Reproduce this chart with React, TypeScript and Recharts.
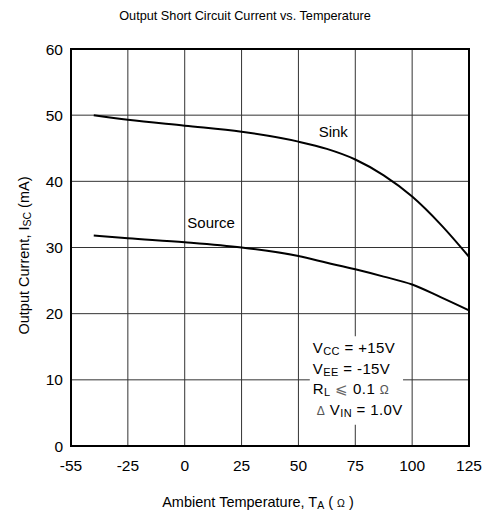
import React from 'react';
import {
  LineChart,
  Line,
  XAxis,
  YAxis,
  CartesianGrid,
  ReferenceArea,
  ReferenceDot,
} from 'recharts';

const temps = [-40, -25, 0, 25, 50, 62.5, 75, 87.5, 100, 112.5, 125];
const sinkCurrent = [50, 49.3, 48.4, 47.5, 46.0, 44.9, 43.3, 40.9, 37.7, 33.5, 28.6];
const sourceCurrent = [31.8, 31.4, 30.8, 30.0, 28.7, 27.7, 26.7, 25.6, 24.4, 22.5, 20.5];

const xTicks = [-50, -25, 0, 25, 50, 75, 100, 125];
const xTickLabels = ['-55', '-25', '0', '25', '50', '75', '100', '125'];
const yTicks = [0, 10, 20, 30, 40, 50, 60];

const data = temps.map((t, i) => ({ t, sink: sinkCurrent[i], source: sourceCurrent[i] }));

const FONT = '"Liberation Sans", Arial, Helvetica, sans-serif';

const XLabel = (props: any) => {
  const vb = props.viewBox || {};
  const cx = vb.x + vb.width / 2;
  return (
    <text x={cx - 12} y={507} textAnchor="middle" fontFamily={FONT} fontSize={14.5} fill="#000">
      <tspan>Ambient Temperature, T</tspan>
      <tspan fontSize={10.5} dy={2}>A</tspan>
      <tspan dy={-2}> ( </tspan>
      <tspan fontSize={10.5}>Ω</tspan>
      <tspan> )</tspan>
    </text>
  );
};

const YLabel = (props: any) => {
  const vb = props.viewBox || {};
  const cy = vb.y + vb.height / 2 + 8;
  const x = 29;
  return (
    <text x={x} y={cy} transform={`rotate(-90 ${x} ${cy})`} textAnchor="middle" fontFamily={FONT} fontSize={14.5} fill="#000">
      <tspan>Output Current, I</tspan>
      <tspan fontSize={10.5} dy={2}>SC</tspan>
      <tspan dy={-2}> (mA)</tspan>
    </text>
  );
};

const CondLabel = (props: any) => {
  const vb = props.viewBox || {};
  const x0 = vb.x + 3;
  const y0 = vb.y;
  const ls = 0.4;
  return (
    <g fontFamily={FONT} fill="#000">
      <text x={x0} y={y0 + 17} fontSize={15} letterSpacing={ls}>
        <tspan>V</tspan>
        <tspan fontSize={11} dy={2}>CC</tspan>
        <tspan dy={-2}> = +15V</tspan>
      </text>
      <text x={x0} y={y0 + 38} fontSize={15} letterSpacing={ls}>
        <tspan>V</tspan>
        <tspan fontSize={11} dy={2}>EE</tspan>
        <tspan dy={-2}> = -15V</tspan>
      </text>
      <text x={x0} y={y0 + 58} fontSize={15} letterSpacing={ls}>
        <tspan>R</tspan>
        <tspan fontSize={11} dy={2}>L</tspan>
        <tspan dy={-2} fill="#666"> ⩽ </tspan>
        <tspan>0.1 </tspan>
        <tspan fontSize={12} fill="#555">Ω</tspan>
      </text>
      <text x={x0 + 4} y={y0 + 79} fontSize={15} letterSpacing={ls}>
        <tspan fontSize={12} fill="#555">Δ</tspan>
        <tspan> V</tspan>
        <tspan fontSize={11} dy={2}>IN</tspan>
        <tspan dy={-2}> = 1.0V</tspan>
      </text>
    </g>
  );
};

const TextAt = (text: string) => (props: any) => {
  const vb = props.viewBox || {};
  return (
    <text x={vb.x} y={vb.y} textAnchor="middle" fontFamily={FONT} fontSize={15} fill="#000">
      {text}
    </text>
  );
};

export default function App() {
  return (
    <div style={{ position: 'absolute', left: 0, top: 0, width: 490, height: 517, background: '#fff' }}>
      <svg style={{ position: 'absolute', left: 0, top: 0 }} width={490} height={30}>
        <text x={245} y={20} textAnchor="middle" fontFamily={FONT} fontSize={12.7} fill="#000">
          Output Short Circuit Current vs. Temperature
        </text>
      </svg>
      <LineChart
        width={490}
        height={517}
        data={data}
        margin={{ top: 49, right: 21, left: 0, bottom: 0 }}
        style={{ position: 'absolute', left: 0, top: 0 }}
      >
        <CartesianGrid stroke="#333" strokeWidth={1} horizontalValues={yTicks} verticalValues={xTicks} />
        <XAxis
          dataKey="t"
          type="number"
          domain={[-50, 125]}
          ticks={xTicks}
          tickFormatter={(v: number) => xTickLabels[xTicks.indexOf(v)]}
          height={71}
          axisLine={false}
          tickLine={false}
          tickSize={0}
          tickMargin={14}
          tick={{ fill: '#000', fontSize: 15.5, fontFamily: FONT }}
          label={<XLabel />}
          interval={0}
        />
        <YAxis
          type="number"
          domain={[0, 60]}
          ticks={yTicks}
          width={71}
          axisLine={false}
          tickLine={false}
          tickSize={0}
          tickMargin={8}
          tick={{ fill: '#000', fontSize: 15.5, fontFamily: FONT }}
          label={<YLabel />}
          interval={0}
        />
        <ReferenceArea x1={55} x2={96} y1={3.2} y2={16.6} fill="#fff" fillOpacity={1} stroke="none" label={<CondLabel />} />
        <Line type="monotone" dataKey="sink" stroke="#000" strokeWidth={2} dot={false} isAnimationActive={false} />
        <Line type="monotone" dataKey="source" stroke="#000" strokeWidth={2} dot={false} isAnimationActive={false} />
        <ReferenceDot x={65.3} y={46.7} r={0} fill="none" stroke="none" label={TextAt('Sink')} />
        <ReferenceDot x={11.6} y={33.0} r={0} fill="none" stroke="none" label={TextAt('Source')} />
        <ReferenceArea x1={-50} x2={125} y1={0} y2={60} fill="none" stroke="#000" strokeWidth={2} />
      </LineChart>
    </div>
  );
}
